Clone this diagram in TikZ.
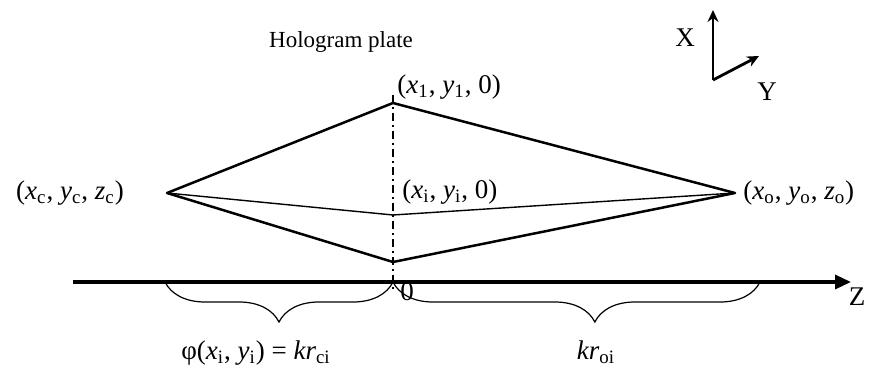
\documentclass[tikz,border=0pt]{standalone}
\usepackage{fontspec}
\setmainfont{Liberation Serif}
\usetikzlibrary{arrows.meta,decorations.pathreplacing}
\tikzset{
  rayline/.style   = {line width=1.25pt,line join=round},
  thinray/.style   = {line width=0.7pt,line join=round},
  plateline/.style = {line width=1pt,dash pattern=on 4pt off 2pt on 1pt off 2pt},
  zaxis/.style     = {-{Triangle[length=8pt,width=7pt]},line width=1.7pt},
  triadarr/.style  = {-{Stealth[length=6pt,width=5.5pt]},line width=1.4pt},
  bracedeco/.style = {decorate,decoration={brace,mirror,amplitude=20pt},line width=0.6pt},
  lbl/.style       = {font=\fontsize{13.5}{15}\selectfont,inner sep=1pt},
  title/.style     = {font=\fontsize{11.5}{13}\selectfont,inner sep=1pt}
}
\newcommand{\cv}[2]{\textit{#1}\textsubscript{#2}}
\begin{document}
\begin{tikzpicture}[x=0.5pt,y=0.5pt]
  \useasboundingbox (0,0) rectangle (871,374);
  % points of the rays
  \coordinate (src)  at (167,181);
  \coordinate (obj)  at (735,181);
  \coordinate (ptop) at (393,271);
  \coordinate (pmid) at (393,159);
  \coordinate (pbot) at (393,112);
  \coordinate (plateA) at (393,279);
  \coordinate (plateB) at (393,84);
  \coordinate (zstart) at (73,92);
  \coordinate (zend)   at (851,92);
  \coordinate (orig)   at (393,92);
  \coordinate (lbr)    at (165,92);
  \coordinate (rbr)    at (760,92);
  % plate and axis
  \draw[plateline] (plateA) -- (plateB);
  \draw[zaxis] (zstart) -- (zend);
  \node[lbl] (zlab) at (857,77) {Z};
  \node[lbl] (zero) at (407,82) {0};
  \node[title] (plate) at (341,332) {Hologram plate};
  % rays
  \draw[rayline] (src) -- (ptop) -- (obj) -- (pbot) -- cycle;
  \draw[thinray] (src) -- (pmid) -- (obj);
  \node[lbl] (srclab) at (70,181) {(\cv{x}{c}, \cv{y}{c}, \cv{z}{c})};
  \node[lbl,anchor=west] (toplab) at (395,287) {(\cv{x}{1}, \cv{y}{1}, 0)};
  \node[lbl,anchor=west] (midlab) at (400,182) {(\cv{x}{i}, \cv{y}{i}, 0)};
  \node[lbl,anchor=west] (objlab) at (741,181) {(\cv{x}{o}, \cv{y}{o}, \cv{z}{o})};
  % phase braces
  \draw[bracedeco] (lbr) -- (orig);
  \draw[bracedeco,decoration={aspect=0.55}] (orig) -- (rbr);
  \node[lbl] (phase) at (256,21) {φ(\cv{x}{i}, \cv{y}{i}) = \textit{kr}\textsubscript{ci}};
  \node[lbl] (objphase) at (596,22) {\textit{kr}\textsubscript{oi}};
  % axes triad
  \coordinate (tri)  at (713,294);
  \coordinate (trix) at (713,364);
  \coordinate (triy) at (759,318);
  \draw[triadarr] (tri) -- (trix);
  \draw[triadarr] (tri) -- (triy);
  \node[lbl] (xlab) at (685,336) {X};
  \node[lbl] (ylab) at (767,282) {Y};
\end{tikzpicture}
\end{document}
